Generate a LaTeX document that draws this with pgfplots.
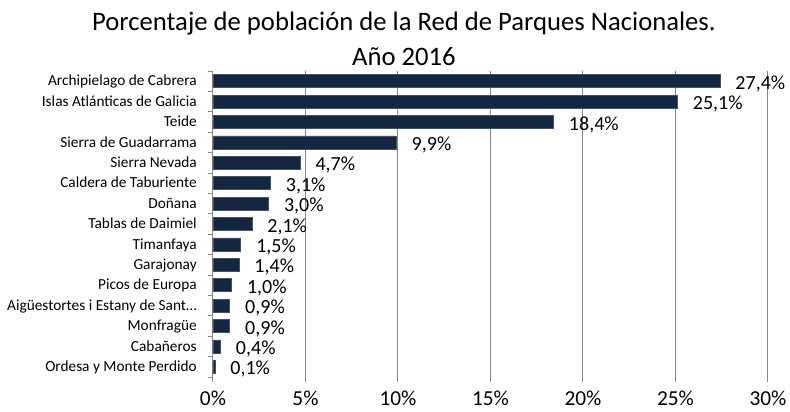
\documentclass[border=0pt]{standalone}
\usepackage{fontspec}
\setmainfont{Carlito}
\usepackage{pgfplots}
\pgfplotsset{compat=1.18}
\definecolor{barblue}{RGB}{20,38,64}
\definecolor{gridgray}{RGB}{134,134,134}

\begin{document}
\begin{tikzpicture}
\useasboundingbox (-159.75pt,-26pt) rectangle (432.75pt,282.75pt);
\begin{axis}[
    at={(0,0)}, anchor=south west,
    scale only axis,
    width=416.25pt, height=229.5pt,
    xbar, bar width=9.75pt,
    xmin=0, xmax=30,
    ymin=-0.5, ymax=14.5, y dir=reverse,
    clip=false,
    axis lines*=left,
    x axis line style={draw=none},
    y axis line style={gridgray, line width=0.75pt},
    xtick={0,5,...,30},
    xticklabels={0\%,5\%,10\%,15\%,20\%,25\%,30\%},
    xmajorgrids,
    grid style={gridgray, line width=0.75pt},
    tick align=outside,
    major tick length=3.5pt,
    tick style={gridgray, line width=0.75pt},
    ytick={-0.5,0.5,...,14.5},
    y tick label as interval,
    yticklabels={Archipielago de Cabrera,Islas Atlánticas de Galicia,Teide,Sierra de Guadarrama,Sierra Nevada,Caldera de Taburiente,Doñana,Tablas de Daimiel,Timanfaya,Garajonay,Picos de Europa,Aigüestortes i Estany de Sant…,Monfragüe,Cabañeros,Ordesa y Monte Perdido},
    xticklabel style={font=\fontsize{16}{19}\selectfont, anchor=base, inner sep=0pt, yshift=-18pt},
    yticklabel style={font=\fontsize{11.5}{14}\selectfont, anchor=base east, inner sep=0pt, xshift=-8.5pt, yshift=-3.5pt},
    title={Porcentaje de población de la Red de Parques Nacionales.\\Año 2016},
    title style={at={(0.344,1)}, anchor=south, align=center, inner sep=0pt, yshift=-2.4pt,
        font=\fontsize{20}{26.25}\selectfont},
    /pgf/number format/assume math mode=true,
    point meta=x,
    nodes near coords={\pgfmathprintnumber[fixed,fixed zerofill,precision=1,use comma]{\pgfplotspointmeta}\%},
    nodes near coords style={font=\fontsize{15}{18}\selectfont, anchor=base west, inner sep=0pt, xshift=11.5pt, yshift=-6pt, black},
]
\addplot[fill=barblue, draw=barblue!80!white, line width=0.4pt] coordinates {
    (27.4,0) (25.1,1) (18.4,2) (9.9,3) (4.7,4)
    (3.1,5) (3.0,6) (2.1,7) (1.5,8) (1.4,9)
    (1.0,10) (0.9,11) (0.9,12) (0.4,13) (0.1,14)
};
\end{axis}
\end{tikzpicture}
\end{document}
